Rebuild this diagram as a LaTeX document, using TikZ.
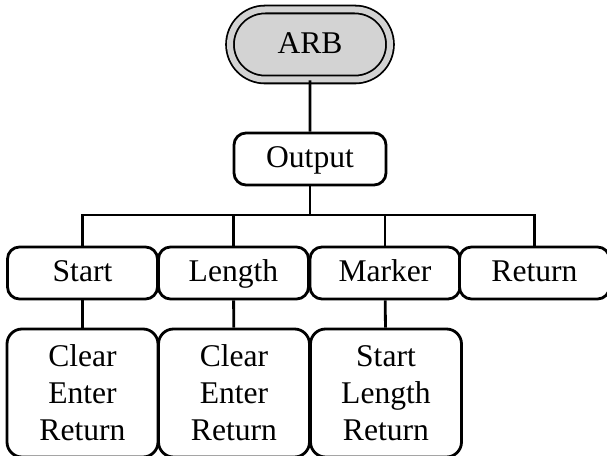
\documentclass[tikz,border=0pt]{standalone}
\usepackage{fontspec}
\setmainfont{Liberation Serif}
\usetikzlibrary{positioning,shapes.misc}
\definecolor{arbgray}{HTML}{D3D3D3}
\definecolor{arbink}{HTML}{000000}
\tikzset{
  key/.style={draw=arbink, fill=white, rounded corners=6pt, line width=1.4pt, align=center, inner sep=0pt, font=\fontsize{15.8}{18.5}\selectfont},
  top/.style={rounded rectangle, draw=arbink, double=arbgray, double distance=3pt, line width=0.9pt, fill=arbgray, minimum width=80pt, minimum height=35pt, inner sep=0pt, text height=0.95em, text depth=0.08em, font=\fontsize{15.8}{18.5}\selectfont},
  sub/.style={key, minimum width=75pt, minimum height=26pt, text height=0.95em, text depth=0.08em},
  leaf/.style={key, rounded corners=7.5pt, minimum width=75.5pt, minimum height=64pt},
  link/.style={line width=1.4pt, color=arbink},
}
\begin{document}
\begin{tikzpicture}[x=0.5pt,y=0.5pt]
  \useasboundingbox (0,0) rectangle (607,456);
  \node[top] (arb) at (310,411.5) {ARB};
  \node[sub, minimum width=76pt] (output) at (310,297) {Output};
  % second row
  \node[sub] (start) at (82.5,183) {Start};
  \node[sub] (length) at (233.5,183) {Length};
  \node[sub] (marker) at (385,183) {Marker};
  \node[sub] (ret) at (534.5,183) {Return};
  % third row
  \node[leaf] (startsub) at (82.5,63) {Clear\\Enter\\Return};
  \node[leaf] (lengthsub) at (234,63) {Clear\\Enter\\Return};
  \node[leaf] (markersub) at (386,63) {Start\\Length\\Return};
  \coordinate (bar) at (310,241);
  \draw[link] (arb) -- (output);
  \draw[link] (output) -- (bar);
  \draw[link] (start.north) |- (bar) -| (ret.north);
  \draw[link] (length.north) -- (length.north |- bar);
  \draw[link] (marker.north) -- (marker.north |- bar);
  \draw[link] (start) -- (startsub);
  \draw[link] (length) -- (lengthsub);
  \draw[link] (marker) -- (markersub);
\end{tikzpicture}
\end{document}
